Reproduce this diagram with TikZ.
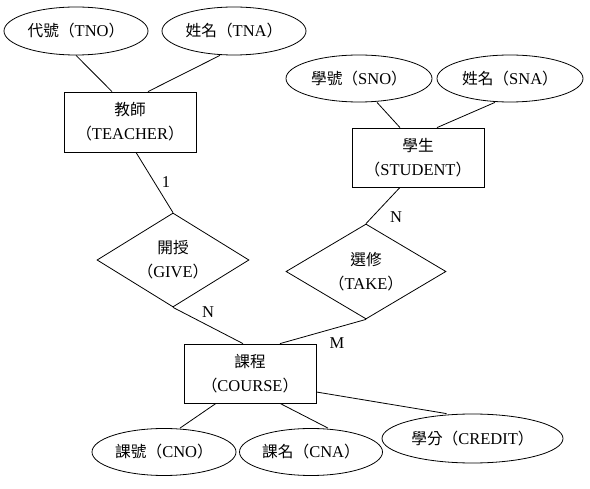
\documentclass[tikz,border=0pt]{standalone}
\usepackage{fontspec}
\setmainfont{Liberation Serif}
\newfontfamily\cjk[Scale=0.95]{Noto Sans CJK TC}
\newcommand{\zh}[1]{{\cjk #1}}
\usetikzlibrary{shapes.geometric}
\begin{document}
\begin{tikzpicture}[x=1pt,y=-1pt,
  every node/.style={font=\fontsize{16.5}{24}\selectfont},
  attr/.style={draw, ellipse, inner sep=0pt, minimum width=144pt, minimum height=48pt, line width=0.8pt},
  entity/.style={draw, rectangle, inner sep=0pt, minimum width=132pt, minimum height=60pt, align=center, line width=0.8pt},
  rel/.style={draw, diamond, aspect=1.6, inner sep=0pt, minimum width=152pt, minimum height=94pt, align=center, line width=0.8pt},
  card/.style={inner sep=0pt},
  conn/.style={line width=0.8pt}
]
\useasboundingbox (0,0) rectangle (590,489);

% attributes
\node[attr] (tno) at (76,31) {\zh{代號（}TNO\zh{）}};
\node[attr] (tna) at (234,31) {\zh{姓名（}TNA\zh{）}};
\node[attr, minimum width=146pt, minimum height=47pt] (sno) at (359,78.5) {\zh{學號（}SNO\zh{）}};
\node[attr, minimum width=146pt, minimum height=47pt] (sna) at (510,78.5) {\zh{姓名（}SNA\zh{）}};
\node[attr, minimum height=47pt] (cno) at (164,452) {\zh{課號（}CNO\zh{）}};
\node[attr, minimum width=143pt, minimum height=47pt] (cna) at (311,452) {\zh{課名（}CNA\zh{）}};
\node[attr, minimum width=181pt, minimum height=49pt] (credit) at (472.5,438.5) {\zh{學分（}CREDIT\zh{）}};

% entities
\node[entity] (teacher) at (130,122) {\zh{教師}\\\zh{（}TEACHER\zh{）}};
\node[entity, minimum height=59pt] (student) at (418,157.5) {\zh{學生}\\\zh{（}STUDENT\zh{）}};
\node[entity, minimum height=59pt] (course) at (250,373.5) {\zh{課程}\\\zh{（}COURSE\zh{）}};

% relationships
\node[rel] (give) at (173,260) {\zh{開授}\\\zh{（}GIVE\zh{）}};
\node[rel, minimum width=160pt, minimum height=95pt] (take) at (366,271.5) {\zh{選修}\\\zh{（}TAKE\zh{）}};

% connectors
\draw[conn] (tno.south) -- ([xshift=-18pt]teacher.north);
\draw[conn] ([xshift=-14pt]tna.south) -- ([xshift=18pt]teacher.north);
\draw[conn] ([xshift=6pt]teacher.south) -- (give.north);
\draw[conn] ([xshift=18pt]sno.south) -- ([xshift=-18pt]student.north);
\draw[conn] ([xshift=-15pt]sna.south) -- ([xshift=19pt]student.north);
\draw[conn] ([xshift=-18pt]student.south) -- (take.north);
\draw[conn] (give.south) -- ([xshift=-7pt]course.north);
\draw[conn] (take.south) -- ([xshift=30pt]course.north);
\draw[conn] ([xshift=-34pt]course.south) -- ([xshift=16pt]cno.north);
\draw[conn] ([xshift=30pt]course.south) -- ([xshift=17pt]cna.north);
\draw[conn] ([yshift=-18.5pt]course.east) -- ([xshift=-26pt]credit.north);

% cardinalities
\node[card] (c1) at (166,182) {1};
\node[card] (c2) at (396,217) {N};
\node[card] (c3) at (208,312) {N};
\node[card] (c4) at (337,343) {M};
\end{tikzpicture}
\end{document}
